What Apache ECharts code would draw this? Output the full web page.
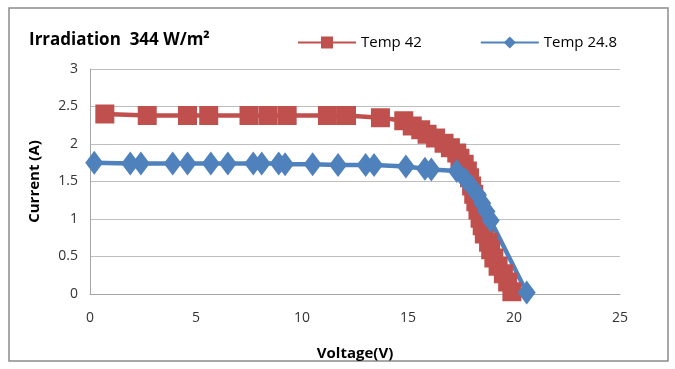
<!DOCTYPE html>
<html>
<head>
<meta charset="utf-8">
<script src="https://cdn.jsdelivr.net/npm/echarts@6/dist/echarts.min.js"></script>
<style>
  html, body { margin: 0; padding: 0; background: #fff; }
  #myChart { width: 675px; height: 369px; }
</style>
</head>
<body>
<div id="myChart"></div>
<script>
  // Temp 42 (voltage, current)
  let redV = [0.7, 2.7, 4.6, 5.6, 7.5, 8.4, 9.3, 11.2, 12.1, 13.7, 14.8, 15.2, 15.6, 15.9, 16.3, 16.7, 17.0, 17.3, 17.45, 17.65, 17.8, 17.9, 18.0, 18.1, 18.2, 18.3, 18.4, 18.5, 18.6, 18.8, 18.9, 19.05, 19.25, 19.5, 19.7, 19.9];
  let redI = [2.40, 2.38, 2.38, 2.38, 2.38, 2.38, 2.38, 2.38, 2.38, 2.35, 2.31, 2.24, 2.19, 2.13, 2.08, 2.01, 1.95, 1.88, 1.81, 1.73, 1.64, 1.55, 1.44, 1.33, 1.23, 1.12, 1.01, 0.91, 0.80, 0.69, 0.59, 0.48, 0.37, 0.27, 0.16, 0.03];
  // Temp 24.8
  let blueV = [0.2, 1.9, 2.4, 3.9, 4.6, 5.7, 6.5, 7.7, 8.1, 8.9, 9.2, 10.5, 11.7, 13.0, 13.4, 14.9, 15.8, 16.1, 17.3, 17.7, 18.0, 18.3, 18.5, 18.7, 18.9, 20.6];
  let blueI = [1.75, 1.74, 1.74, 1.74, 1.74, 1.74, 1.74, 1.74, 1.74, 1.74, 1.73, 1.73, 1.72, 1.72, 1.72, 1.70, 1.67, 1.66, 1.64, 1.53, 1.43, 1.32, 1.21, 1.10, 0.98, 0.02];

  function pairs(xs, ys) {
    return xs.map((x, i) => [x, ys[i]]);
  }

  let myChart = echarts.init(document.getElementById('myChart'));
  let font = 'Open Sans';
  let option = {
    animation: false,
    textStyle: { fontFamily: font },
    graphic: [{
      type: 'rect',
      shape: { x: 9, y: 8, width: 659, height: 353 },
      style: { fill: 'none', stroke: '#8c8c8c', lineWidth: 1.5 }
    }],
    title: {
      text: 'Irradiation  344 W/m²',
      left: 24,
      top: 27,
      textStyle: {
        fontFamily: font,
        fontSize: 17,
        fontWeight: 'bold',
        color: '#000'
      }
    },
    legend: {
      data: ['Temp 42', 'Temp 24.8'],
      left: 292,
      top: 30,
      itemWidth: 58,
      itemHeight: 15,
      itemGap: 58,
      textStyle: { fontFamily: font, fontSize: 15, color: '#000' }
    },
    grid: {
      left: 90,
      right: 55,
      top: 69,
      bottom: 75
    },
    xAxis: {
      type: 'value',
      min: 0,
      max: 25,
      interval: 5,
      name: 'Voltage(V)',
      nameLocation: 'middle',
      nameGap: 52,
      nameTextStyle: { fontFamily: font, fontSize: 15, fontWeight: 'bold', color: '#000' },
      axisLine: { lineStyle: { color: '#a6a6a6' } },
      axisTick: { show: false },
      axisLabel: { fontFamily: font, fontSize: 14, color: '#333', margin: 17 },
      splitLine: { show: false }
    },
    yAxis: {
      type: 'value',
      min: 0,
      max: 3,
      interval: 0.5,
      name: 'Current (A)',
      nameLocation: 'middle',
      nameRotate: 90,
      nameGap: 48,
      nameTextStyle: { fontFamily: font, fontSize: 15, fontWeight: 'bold', color: '#000' },
      axisLine: { show: true, lineStyle: { color: '#a6a6a6' } },
      axisTick: { show: false },
      axisLabel: { fontFamily: font, fontSize: 14, color: '#333', margin: 12 },
      splitLine: { lineStyle: { color: '#bfbfbf' } }
    },
    series: [{
        name: 'Temp 42',
        type: 'line',
        data: pairs(redV, redI),
        symbol: 'rect',
        symbolSize: 19,
        itemStyle: { color: '#c0504d' },
        lineStyle: { color: '#c0504d', width: 4.5 }
      },
      {
        name: 'Temp 24.8',
        type: 'line',
        data: pairs(blueV, blueI),
        symbol: 'diamond',
        symbolSize: [18, 24],
        itemStyle: { color: '#4f81bd' },
        lineStyle: { color: '#4f81bd', width: 4.5 }
      }
    ]
  };
  myChart.setOption(option);
</script>
</body>
</html>
